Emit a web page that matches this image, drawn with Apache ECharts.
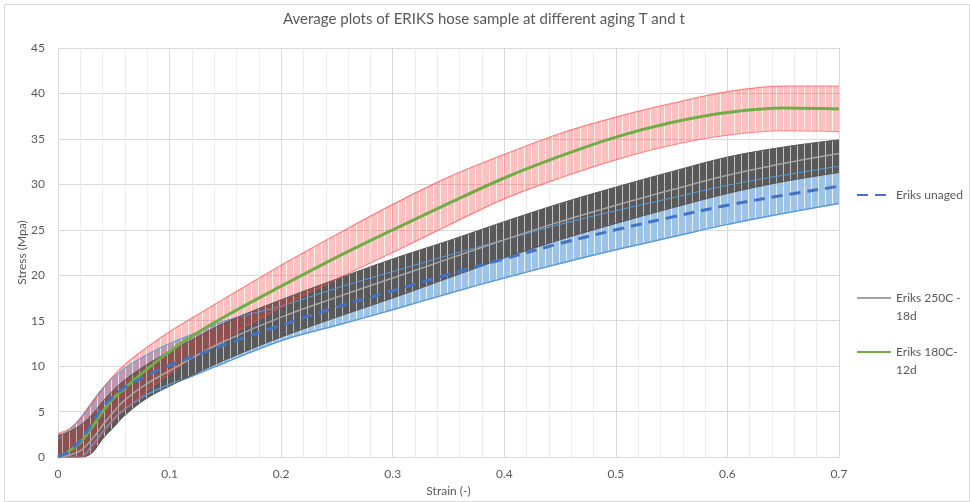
<!DOCTYPE html>
<html><head><meta charset="utf-8">
<script src="https://cdn.jsdelivr.net/npm/echarts@6/dist/echarts.min.js"></script>
<style>html,body{margin:0;padding:0;background:#fff}#c{width:970px;height:502px}</style>
</head><body><div id="c"></div>
<script>
// Strain sample points (-)
const strain = [0, 0.01, 0.02, 0.03, 0.04, 0.05, 0.06, 0.08, 0.1, 0.12, 0.15, 0.2, 0.25, 0.3, 0.35, 0.4, 0.45, 0.5, 0.55, 0.6, 0.65, 0.7];

// Eriks unaged (MPa)
const unagedMean = [0, 0.7, 1.8, 3.6, 5.5, 6.7, 7.7, 9.0, 10.1, 11.0, 12.4, 14.5, 16.5, 18.3, 20.1, 21.8, 23.5, 25.0, 26.4, 27.7, 28.8, 29.8];
const unagedHigh = [2.0, 3.0, 4.3, 6.0, 7.6, 8.8, 9.8, 11.3, 12.5, 13.5, 15.0, 16.6, 18.6, 20.4, 22.2, 23.9, 25.6, 27.1, 28.5, 29.9, 31.0, 32.0];
const unagedLow  = [0, 0, 0, 1.2, 2.8, 4.2, 5.3, 6.9, 8.0, 8.9, 10.4, 12.8, 14.5, 16.2, 18.0, 19.7, 21.3, 22.8, 24.2, 25.6, 26.8, 27.9];

// Eriks 250C - 18d (MPa)
const aged250Mean = [0, 0.2, 0.7, 1.9, 3.5, 5.0, 6.3, 8.1, 9.5, 10.9, 12.8, 15.4, 17.6, 19.7, 21.8, 23.9, 25.9, 27.7, 29.4, 31.0, 32.3, 33.4];
const aged250High = [2.4, 2.8, 3.5, 4.6, 6.1, 7.4, 8.5, 10.2, 11.6, 12.9, 14.8, 17.3, 19.6, 21.8, 23.8, 25.9, 27.9, 29.7, 31.4, 33.0, 34.1, 34.9];
const aged250Low  = [0, 0, 0, 0.4, 2.0, 3.3, 4.6, 6.5, 7.8, 9.0, 10.7, 13.2, 15.4, 17.5, 19.7, 21.9, 23.9, 25.7, 27.4, 29.0, 30.3, 31.3];

// Eriks 180C- 12d (MPa)
const aged180Mean = [0, 0.7, 1.6, 3.2, 5.0, 6.5, 7.6, 9.7, 11.6, 13.3, 15.5, 18.8, 22.0, 25.0, 27.9, 30.7, 33.1, 35.2, 36.8, 37.9, 38.4, 38.3];
const aged180High = [2.6, 3.1, 4.2, 5.8, 7.5, 9.0, 10.2, 12.1, 13.8, 15.3, 17.5, 21.1, 24.5, 27.8, 30.8, 33.3, 35.6, 37.4, 38.9, 40.2, 40.8, 40.8];
const aged180Low  = [0, 0, 0, 0.8, 2.6, 4.0, 5.2, 7.3, 9.2, 10.9, 13.1, 16.5, 19.6, 22.5, 25.5, 28.4, 30.7, 32.7, 34.3, 35.4, 35.9, 35.8];

const names = ['Eriks unaged', 'Eriks 250C - 18d', 'Eriks 180C- 12d'];

const FONT = 'Lato, "Open Sans", sans-serif';
const TXT = '#595959';
const SMOOTH = 0.35;

function pattern(fill, gap) {
  const c = document.createElement('canvas');
  c.width = 7; c.height = 4;
  const g = c.getContext('2d');
  g.fillStyle = fill; g.fillRect(0, 0, 6, 4);
  g.fillStyle = gap; g.fillRect(6, 0, 1, 4);
  return { image: c, repeat: 'repeat' };
}
// rows stored as [stress, strain] so the stacked dimension is the stress one
function rows(ys) { return strain.map((x, i) => [ys[i], x]); }
function diffRows(hi, lo) { return strain.map((x, i) => [+(hi[i] - lo[i]).toFixed(3), x]); }
function pts(ys) { return strain.map((x, i) => [x, ys[i]]); }

function band(id, lo, hi, fill, edgeLo, edgeHi) {
  const common = { type: 'line', stack: id, stackStrategy: 'all', smooth: SMOOTH,
                   encode: { x: 1, y: 0 }, symbol: 'none', silent: true, z: 2 };
  return [
    Object.assign({ name: id + ' low', data: rows(lo), lineStyle: edgeLo }, common),
    Object.assign({ name: id + ' high', data: diffRows(hi, lo), lineStyle: edgeHi,
                    areaStyle: { color: fill, opacity: 1 } }, common)
  ];
}

const series = [].concat(
  band('b1', unagedLow, unagedHigh, pattern('#9DC3E6', 'rgba(157,195,230,0.25)'),
       { color: '#5B9BD5', width: 1.5 }, { color: '#5B9BD5', width: 1 }),
  band('b2', aged250Low, aged250High, pattern('#595959', 'rgba(89,89,89,0.35)'),
       { color: '#595959', width: 1 }, { color: '#595959', width: 1 }),
  band('b3', aged180Low, aged180High, pattern('rgba(255,60,60,0.32)', 'rgba(255,60,60,0.08)'),
       { color: 'rgba(255,70,70,0.6)', width: 1.2 }, { color: 'rgba(255,70,70,0.6)', width: 1.2 }),
  [
    { name: names[2], type: 'line', data: pts(aged180Mean), smooth: SMOOTH, symbol: 'none', z: 3,
      lineStyle: { color: '#70AD47', width: 3 }, itemStyle: { color: '#70AD47' } },
    { name: names[1], type: 'line', data: pts(aged250Mean), smooth: SMOOTH, symbol: 'none', z: 3,
      lineStyle: { color: '#A5A5A5', width: 1.5 }, itemStyle: { color: '#A5A5A5' } },
    { name: names[0], type: 'line', data: pts(unagedMean), smooth: SMOOTH, symbol: 'none', z: 3,
      lineStyle: { color: '#4472C4', width: 3, type: [11, 7] }, itemStyle: { color: '#4472C4' } }
  ]
);

function legendFor(name, top, label) {
  return {
    data: [name], left: 856, top: top, padding: 0, orient: 'vertical', itemWidth: 34, itemHeight: 14,
    selectedMode: false,
    itemStyle: { opacity: 0 },
    formatter: () => label,
    textStyle: { color: TXT, fontSize: 12, fontFamily: FONT, lineHeight: 18 }
  };
}

const chart = echarts.init(document.getElementById('c'), null, { renderer: 'canvas' });
chart.setOption({
  animation: false,
  backgroundColor: '#fff',
  textStyle: { fontFamily: FONT },
  title: {
    text: 'Average plots of ERIKS hose sample at different aging T and t',
    left: 278, top: 7,
    textStyle: { color: TXT, fontSize: 15, fontWeight: 'normal', fontFamily: FONT }
  },
  legend: [
    legendFor(names[0], 186, 'Eriks unaged'),
    legendFor(names[1], 271, '\nEriks 250C -\n18d'),
    legendFor(names[2], 325, '\nEriks 180C-\n12d')
  ],
  grid: { left: 58, right: 131, top: 48, bottom: 33, containLabel: false },
  xAxis: {
    type: 'value', min: 0, max: 0.7, interval: 0.1,
    name: 'Strain (-)', nameLocation: 'middle', nameGap: 24,
    nameTextStyle: { color: TXT, fontSize: 12, fontFamily: FONT },
    axisLine: { show: true, lineStyle: { color: '#D9D9D9' } },
    axisTick: { show: false },
    axisLabel: { color: TXT, fontSize: 12, margin: 11, formatter: v => String(+v.toFixed(1)) },
    splitLine: { show: true, lineStyle: { color: '#D9D9D9' } },
    minorTick: { show: false, splitNumber: 5 },
    minorSplitLine: { show: true, lineStyle: { color: '#EDEDED' } }
  },
  yAxis: {
    type: 'value', min: 0, max: 45, interval: 5,
    name: 'Stress (Mpa)', nameLocation: 'middle', nameGap: 30, nameMoveOverlap: false,
    nameTextStyle: { color: TXT, fontSize: 12, fontFamily: FONT },
    axisLine: { show: false }, axisTick: { show: false },
    axisLabel: { color: TXT, fontSize: 12, margin: 13 },
    splitLine: { show: true, lineStyle: { color: '#D9D9D9' } }
  },
  graphic: [{
    type: 'rect', left: 2, top: 2, silent: true, z: -10,
    shape: { width: 965, height: 497 },
    style: { fill: 'none', stroke: '#D9D9D9', lineWidth: 1 }
  }],
  series: series
});
</script>
</body></html>
